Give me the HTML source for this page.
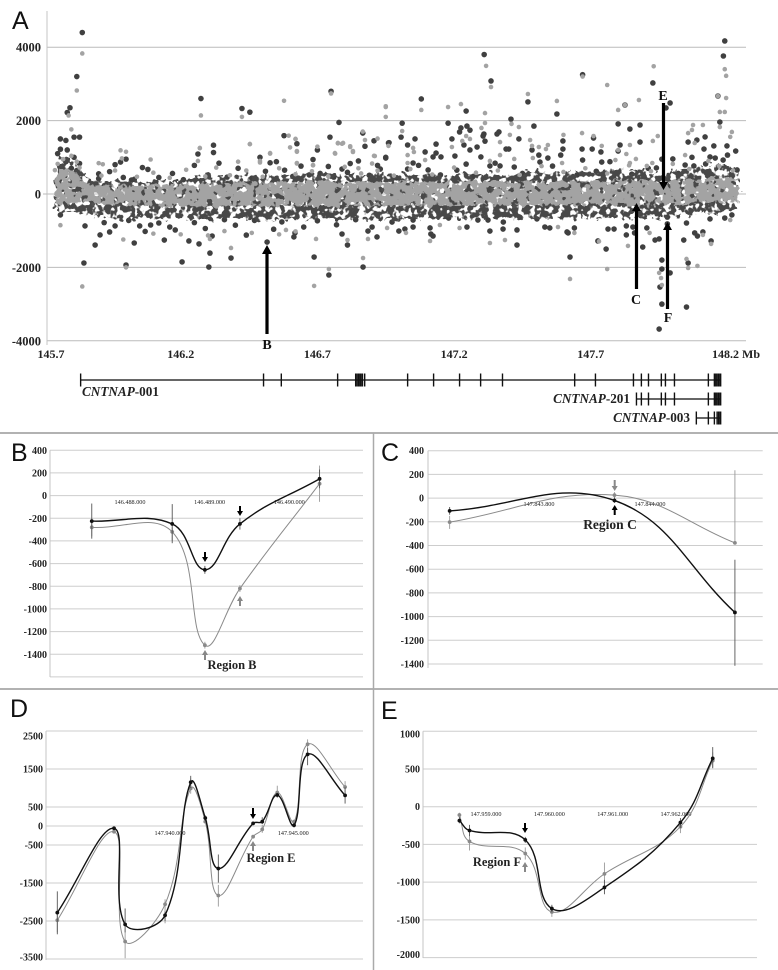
<!DOCTYPE html>
<html lang="en">
<head>
<meta charset="utf-8">
<title>CNTNAP copy-number panels</title>
<style>
html,body{margin:0;padding:0;background:#fff;}
#figure{display:block;width:778px;height:970px;font-family:"Liberation Serif",serif;}
.tick{font:bold 10px "Liberation Serif",serif;fill:#222;text-anchor:end;}
.tick-a{font:bold 12.5px "Liberation Serif",serif;fill:#222;}
.pos{font:6.2px "Liberation Serif",serif;fill:#222;text-anchor:middle;}
.panel{font:25px "Liberation Sans",sans-serif;fill:#111;}
.region{font:bold 12.5px "Liberation Serif",serif;fill:#222;text-anchor:middle;}
.gene{font:bold 13.2px "Liberation Serif",serif;fill:#222;}
.mark{font:bold 14px "Liberation Serif",serif;fill:#111;text-anchor:middle;}
</style>
</head>
<body>
<svg id="figure" xmlns="http://www.w3.org/2000/svg" width="778" height="970" viewBox="0 0 778 970">
<defs>
<filter id="speckle-fringe" x="40" y="130" width="710" height="120" filterUnits="userSpaceOnUse" color-interpolation-filters="sRGB">
<feTurbulence type="fractalNoise" baseFrequency="0.17" numOctaves="2" seed="4" result="n"/>
<feDisplacementMap in="SourceGraphic" in2="n" scale="12" xChannelSelector="R" yChannelSelector="G" result="d"/>
<feColorMatrix in="n" type="matrix" values="0 0 0 0 0  0 0 0 0 0  0 0 0 0 0  0 0 0 12 -5" result="m"/>
<feComposite in="d" in2="m" operator="in"/>
</filter>
<filter id="speckle-core" x="40" y="130" width="710" height="120" filterUnits="userSpaceOnUse" color-interpolation-filters="sRGB">
<feTurbulence type="fractalNoise" baseFrequency="0.15" numOctaves="2" seed="11" result="n"/>
<feDisplacementMap in="SourceGraphic" in2="n" scale="10" xChannelSelector="R" yChannelSelector="G" result="d"/>
<feColorMatrix in="n" type="matrix" values="0 0 0 0 0  0 0 0 0 0  0 0 0 0 0  0 0 0 16 -5.6" result="m"/>
<feComposite in="d" in2="m" operator="in"/>
</filter>
</defs>
<rect x="0" y="0" width="778" height="970" fill="#fff"/>
<g id="layer-a"></g>
<g id="layer-genes"></g>
<g id="layer-b"></g>
<g id="layer-c"></g>
<g id="layer-d"></g>
<g id="layer-e"></g>
<line x1="0" y1="433" x2="778" y2="433" stroke="#999" stroke-width="1.5"/>
<line x1="0" y1="689" x2="778" y2="689" stroke="#999" stroke-width="1.5"/>
<line x1="373.5" y1="433" x2="373.5" y2="970" stroke="#aaa" stroke-width="1.5"/>
<text class="panel" x="12" y="29">A</text>
<text class="panel" x="11" y="461">B</text>
<text class="panel" x="381" y="461">C</text>
<text class="panel" x="10" y="717">D</text>
<text class="panel" x="381" y="719">E</text>
<text class="mark" x="267" y="349">B</text>
<text class="mark" x="636" y="304">C</text>
<text class="mark" x="663" y="100">E</text>
<text class="mark" x="668" y="322">F</text>
<text class="gene" x="82" y="396"><tspan font-style="italic">CNTNAP</tspan>-001</text>
<text class="gene" x="630" y="403" text-anchor="end"><tspan font-style="italic">CNTNAP</tspan>-201</text>
<text class="gene" x="690" y="422" text-anchor="end"><tspan font-style="italic">CNTNAP</tspan>-003</text>
<text class="region" x="232" y="669">Region B</text>
<text class="region" x="610" y="529" style="font-size:13.5px">Region C</text>
<text class="region" x="271" y="862">Region E</text>
<text class="region" x="497" y="866">Region F</text>
</svg>
<script>
/* ---------- Panel A data ---------- */
const aYTicks = [4000, 2000, 0, -2000, -4000];
const aXTicks = [145.7, 146.2, 146.7, 147.2, 147.7, 148.2];
const aXTickLabels = ['145.7', '146.2', '146.7', '147.2', '147.7', '148.2 Mb'];
const bandPos = [145.74,145.76,145.79,145.82,145.85,145.88,145.93,145.98,146.03,146.08,
146.13,146.18,146.23,146.28,146.33,146.38,146.43,146.48,146.53,146.58,
146.63,146.68,146.73,146.78,146.83,146.88,146.93,146.98,147.03,147.08,
147.13,147.18,147.23,147.28,147.33,147.38,147.43,147.48,147.53,147.58,
147.63,147.68,147.73,147.78,147.83,147.88,147.93,147.98,148.03,148.08,
148.13,148.18,148.24];
const coreHigh = [500,640,700,560,310,260,240,230,250,220,
240,250,260,290,270,300,310,280,300,330,
320,340,350,310,330,320,340,310,360,330,
340,320,350,340,360,330,350,370,340,360,
370,350,340,390,370,390,360,350,410,390,
420,450,400];
const coreLow = [-250,-300,-260,-240,-240,-260,-280,-300,-320,-300,
-340,-330,-320,-350,-330,-340,-320,-350,-330,-320,
-340,-320,-330,-340,-310,-330,-320,-330,-300,-320,
-320,-300,-320,-310,-330,-300,-310,-290,-320,-300,
-310,-300,-320,-290,-300,-320,-290,-300,-280,-260,
-250,-240,-220];
const fringeHigh = [800,1050,1000,820,430,400,360,330,360,320,
350,360,430,520,480,500,520,460,500,550,
530,580,570,520,540,530,570,500,580,540,
560,520,570,550,580,530,560,620,570,600,
640,580,600,700,620,680,600,580,720,700,
780,820,600];
const fringeLow = [-450,-500,-520,-520,-560,-600,-640,-680,-660,-650,
-690,-680,-660,-710,-690,-710,-680,-730,-710,-680,
-710,-660,-690,-710,-660,-690,-680,-700,-650,-660,
-680,-650,-680,-660,-690,-650,-660,-630,-680,-650,
-660,-640,-680,-650,-660,-690,-630,-650,-600,-570,
-530,-500,-400];
const darkPoints = [[145.84,4400],[145.82,3200],[145.795,2350],[145.785,2220],[145.81,1550],[145.83,1550],[145.76,1500],[145.78,1460],[145.76,1220],[145.785,1200],[145.75,1100],[145.83,830],[145.76,730],[145.78,880],[145.80,700],[145.82,640],[145.81,1000],
[146.274,2600],[146.424,2330],[146.453,2230],[146.75,2800],[146.779,1950],[146.578,1590],[146.625,1370],[146.32,1330],[146.32,1130],[146.263,1090],[146.49,1000],[146.527,850],[146.684,940],[146.70,1200],[146.746,1550],[146.866,1660],[146.874,1300],[146.907,1450],[146.962,1400],[146.95,1000],[146.92,780],[146.79,680],[146.82,830],[146.74,750],[145.96,800],[145.98,870],[146.0,950],[145.99,450],[146.03,400],[146.08,670],[145.9,550],[146.58,650],[146.67,520],
[147.335,3080],[147.31,3800],[147.08,2590],[147.244,2260],[147.47,2510],[147.576,2180],[147.408,2040],[147.178,1930],[147.01,1930],[147.492,1850],[147.225,1800],[147.247,1850],[147.258,1740],[147.22,1690],[147.309,1635],[147.306,1580],[147.313,1440],[147.357,1635],[147.364,1690],[147.437,1500],[147.006,1550],[146.96,1390],[147.057,1500],[147.03,1335],[147.134,1360],[147.192,1500],[147.236,1335],[147.284,1280],[147.258,1200],[147.094,1145],[147.134,1115],[147.123,1010],[147.152,1010],[146.95,980],[147.203,1035],[147.39,1225],[147.40,1225],[147.298,1010],[147.244,815],[147.05,845],[147.331,765],[147.42,735],[147.368,765],[147.598,1445],[147.598,1225],[147.59,1060],[147.543,980],[147.51,1060],[147.514,870],[147.485,1200],[147.105,655],[147.03,680],
[147.67,3250],[147.927,3025],[147.825,2425],[147.99,2480],[148.165,2670],[148.19,4170],[148.185,3760],[148.172,1960],[147.80,1910],[147.843,1770],[147.88,1880],[147.88,1415],[147.975,2345],[147.668,1225],[147.71,1525],[147.705,1225],[147.737,1145],[147.67,925],[147.74,870],[147.807,1335],[147.80,1170],[147.94,710],[148.0,955],[148.045,790],[148.056,1415],[148.088,1470],[148.118,1555],[148.114,1225],[148.15,1310],[148.198,1310],[148.23,1170],[148.184,925],[148.155,980],[148.136,1010],[148.235,655],[148.077,765],
[146.516,-1310],[146.23,-1280],[146.267,-1360],[146.315,-1145],[146.307,-1610],[146.384,-1745],[146.205,-1850],[146.303,-1990],[146.44,-1120],[146.614,-1170],[146.618,-1060],[146.688,-1717],[146.742,-2207],[146.867,-1990],[146.81,-1390],[146.79,-1090],[146.885,-1010],[146.918,-1170],
[146.973,-765],[146.998,-1010],[147.02,-955],[147.05,-900],[147.05,-710],[147.112,-925],[147.115,-1090],[147.123,-1145],[147.18,-655],[147.247,-900],[147.287,-710],[147.324,-710],[147.331,-1010],[147.379,-955],[147.38,-765],[147.43,-980],[147.43,-1390],[147.44,-630],[147.503,-680],[147.532,-900],[147.55,-925],[147.617,-1060],[147.624,-1717],[147.64,-925],
[147.613,-1035],[147.726,-1280],[147.756,-1500],[147.785,-955],[147.763,-955],[147.83,-870],[147.83,-1115],[147.854,-900],[147.86,-1060],[147.89,-1445],[147.905,-925],[147.935,-1255],[147.95,-1225],[147.98,-630],[147.98,-815],[147.96,-1800],[147.96,-2045],[147.99,-2150],[147.953,-2535],[147.96,-3000],[147.95,-3680],[148.05,-3080],[148.056,-1880],[148.04,-1255],[148.05,-790],[148.08,-1060],[148.09,-1145],[148.11,-1035],[148.136,-680],[148.14,-1280],[148.19,-655],[148.216,-570],
[145.846,-1880],[145.76,-570],[145.905,-1115],[145.94,-1035],[146.0,-1935],[145.887,-1390],[146.03,-1335],[146.09,-845],[146.14,-1255],[145.85,-870],[145.96,-870],[146.05,-870],[146.18,-980],[145.92,-780],[146.01,-720],[146.07,-1020],[146.12,-790],[146.16,-900],[146.25,-780],[146.29,-940],[146.36,-700],[146.40,-850],[146.47,-720],[146.54,-960],[146.57,-760],[146.65,-900],[146.70,-730],[146.77,-840],[146.84,-700],[146.90,-900],
[145.9,420],[145.94,610],[146.02,380],[146.06,720],[146.12,450],[146.17,560],[146.21,390],[146.25,780],[146.30,520],[146.34,840],[146.37,460],[146.41,700],[146.46,430],[146.51,620],[146.55,880],[146.61,480],[146.64,760],[146.71,560],[146.76,460],[146.81,590],[146.85,900],[146.89,510],[146.93,680],[146.99,440],[147.07,780],[147.15,520],[147.21,650],[147.27,480],[147.35,840],[147.45,560],[147.56,760],[147.65,520],[147.72,620],[147.77,880],[147.85,540],[147.91,700],[147.96,950],[148.02,560],[148.07,1000],[148.12,820],[148.20,1060]];
const darkFlecks = [[145.78,480],[145.80,300],[145.82,-120],[145.76,120],[145.88,-280],[145.92,-120],[145.97,-300],[146.00,-60],[146.05,-240],[146.09,-340],[146.13,-100],[146.17,-280],[146.21,40],[146.26,-330],[146.30,-130],[146.35,-290],[146.39,60],[146.43,-200],[146.47,-360],[146.51,-70],[146.55,-310],[146.59,90],[146.62,-240],[146.66,-30],[146.70,-340],[146.74,110],[146.78,-180],[146.82,-350],[146.86,-40],[146.90,-270],[146.94,120],[146.98,-330],[147.02,-90],[147.06,-280],[147.10,80],[147.14,-230],[147.18,-360],[147.22,20],[147.26,-210],[147.30,-330],[147.34,100],[147.38,-150],[147.42,-340],[147.46,30],[147.50,-260],[147.54,-60],[147.58,-350],[147.62,120],[147.66,-220],[147.70,-340],[147.74,60],[147.78,-190],[147.82,-320],[147.86,-20],[147.90,-280],[147.94,90],[147.98,-230],[148.02,-330],[148.06,50],[148.10,-170],[148.14,-280],[148.18,130],[148.22,-120]];
const grayPoints = [[145.84,3830],[145.82,2820],[145.79,2140],[145.80,1760],[146.274,2140],[146.424,2100],[146.578,2540],[146.75,2740],[146.95,2390],[146.95,2100],[146.27,1250],[146.263,900],[146.453,1360],[146.41,880],[146.527,1100],[146.49,860],[146.595,1590],[146.62,1500],[146.60,1270],[146.625,1150],[146.625,830],[146.684,780],[146.70,1290],[146.765,1100],[146.775,1380],[146.79,1370],[146.82,1300],[146.83,1170],[146.866,1700],[146.874,1470],[146.92,1510],[146.907,1040],[146.90,830],[146.85,700],[145.98,1190],[146.0,1150],[145.985,970],[146.09,940],[145.9,840],[145.915,810],
[147.317,3490],[147.335,2915],[147.08,2290],[146.95,2370],[147.178,2370],[147.225,2450],[147.313,2205],[147.47,2725],[147.576,2535],[147.01,1715],[146.96,1310],[147.05,1255],[147.053,1145],[147.03,1060],[147.03,845],[147.094,925],[147.192,1280],[147.23,1445],[147.244,1580],[147.258,1500],[147.30,1800],[147.313,1935],[147.41,1910],[147.437,1825],[147.404,1610],[147.368,1415],[147.368,1060],[147.42,955],[147.331,900],[147.478,1470],[147.485,1310],[147.51,1280],[147.543,1335],[147.488,980],[147.536,1225],[147.60,1610],[147.595,845],[147.67,3200],
[147.331,-1335],[147.386,-1255],[147.112,-1280],[147.624,-2315],[146.955,-925],[147.024,-1060],[147.22,-925],[147.58,-900],[147.148,-845],
[146.27,1255],[146.453,1360],[146.527,1115],[146.625,845],[146.62,1500],[146.625,1170],[146.764,1115],[146.775,1390],[146.794,1390],[146.82,1280],[146.83,1145],[146.91,1035],[146.384,-1470],[146.307,-1225],[146.742,-2045],[146.688,-2505],[146.867,-1745],[146.81,-1255],[146.695,-1225],[146.885,-1225],[146.49,900],[146.684,790],[146.585,-980],
[147.76,2970],[147.825,2425],[147.876,2560],[147.80,2290],[147.93,3480],[148.165,2670],[148.195,2615],[148.172,2235],[148.19,2235],[148.19,3400],[148.195,3220],[147.668,1660],[147.71,1580],[147.74,1310],[147.80,1200],[147.843,1335],[147.83,1090],[147.79,925],[147.843,845],[147.865,955],[147.905,765],[147.927,1445],[147.925,845],[147.945,1580],[148.074,1880],[148.11,1880],[148.056,1660],[148.07,1745],[148.08,1390],[148.216,1690],[148.21,1555],[148.172,1825],[148.045,1060],[147.76,-2045],[147.73,-1290],[148.05,-1770],[148.056,-2015],[148.09,-1960],[147.95,-2150],[147.957,-2290],[147.96,-2480],[147.836,-1415],[147.64,-1060],[147.915,-1060],[148.11,-1115],[148.14,-1360],[148.21,-710],
[145.84,-2520],[145.76,-850],[146.0,-2000],[145.99,-1240],[146.1,-1080],[146.2,-1100],[146.3,-1130],[146.36,-1010],[146.46,-1060],[146.56,-1100],[146.62,-1020],
[145.75,820],[145.77,950],[145.80,1040],[145.82,880],[145.74,650],[145.83,720],[145.91,500],[145.96,640],[146.04,470],[146.1,580],[146.16,440],[146.22,660],[146.29,480],[146.33,720],[146.38,510],[146.44,640],[146.5,470],[146.56,700],[146.62,540],[146.68,620],[146.74,480],[146.8,740],[146.86,560],[146.92,640],[146.98,500],[147.04,680],[147.12,530],[147.2,720],[147.28,580],[147.36,640],[147.44,520],[147.52,760],[147.6,600],[147.68,700],[147.76,560],[147.84,780],[147.92,620],[148.0,820],[148.06,680],[148.13,900],[148.17,760],[148.22,640]];
/* ---------- Gene track data (exon positions, Mb) ---------- */
const exon001 = [145.834,146.503,146.568,146.774,146.84,146.845,146.85,146.855,146.86,146.865,146.873,147.03,147.125,147.22,147.297,147.377,147.641,147.717,147.856,147.885,147.911,147.958,147.973,148.006,148.13,148.152,148.157,148.162,148.167,148.172,148.175];
const exon201 = [147.867,147.885,147.911,147.958,147.973,148.006,148.13,148.152,148.157,148.162,148.167,148.172,148.175];
const exon003 = [148.086,148.13,148.152,148.162,148.167,148.172,148.175];
/* ---------- Panel B data ---------- */
const bPos = [487.52, 488.53, 488.94, 489.38, 490.38];
const bDark = [-225, -250, -655, -250, 148];
const bGray = [-280, -320, -1320, -820, 105];
const bDarkHigh = [-70, -75, -620, -200, 230];
const bDarkLow = [-380, -420, -690, -300, 65];
const bGrayHigh = [-200, -280, -1290, -790, 265];
const bGrayLow = [-360, -400, -1350, -850, -55];
const bYTicks = [400, 200, 0, -200, -400, -600, -800, -1000, -1200, -1400];
const bGridExtra = [-1600];
const bXTicks = [488, 489, 490];
const bXLabels = ['146.488.000', '146.489.000', '146.490.000'];
/* ---------- Panel C data ---------- */
const cPos = [843.639, 843.936, 844.153];
const cDark = [-108, -20, -965];
const cGray = [-203, 25, -378];
const cDarkHigh = [-75, 5, -520];
const cDarkLow = [-140, -40, -1415];
const cGrayHigh = [-150, 50, 235];
const cGrayLow = [-260, 0, -378];
const cYTicks = [400, 200, 0, -200, -400, -600, -800, -1000, -1200, -1400];
const cXTicks = [843.8, 844.0];
const cXLabels = ['147.843.800', '147.844.000'];
/* ---------- Panel D data ---------- */
const dPos = [935.43, 937.73, 938.18, 939.80, 940.84, 941.43, 941.96, 943.37, 943.74, 944.35, 945.03, 945.58, 947.10];
const dDark = [-2280, -60, -2590, -2350, 1150, 210, -1120, 70, 115, 815, 20, 1885, 805];
const dGray = [-2480, -150, -3040, -2060, 990, 115, -1830, -280, -90, 880, 115, 2150, 1025];
const dDarkHigh = [-1720, -30, -2170, -2250, 1320, 280, -750, 100, 230, 870, 60, 2050, 1020];
const dDarkLow = [-2850, -90, -2800, -2500, 1000, 140, -1490, 40, 50, 760, -40, 1600, 590];
const dGrayHigh = [-2200, -100, -2700, -1930, 1250, 160, -1550, -240, 30, 1060, 160, 2280, 1180];
const dGrayLow = [-2800, -190, -3480, -2560, 850, 70, -2120, -330, -180, 740, 40, 1950, 870];
const dYTicks = [2500, 1500, 500, 0, -500, -1500, -2500, -3500];
const dXTicks = [940, 945];
const dXLabels = ['147.940.000', '147.945.000'];
/* ---------- Panel E data ---------- */
const ePos = [958.58, 958.74, 959.62, 960.04, 960.87, 962.07, 962.58];
const eDark = [-185, -315, -440, -1350, -1070, -210, 640];
const eGray = [-110, -460, -620, -1395, -890, -265, 610];
const eDarkHigh = [-140, -240, -400, -1300, -970, -150, 790];
const eDarkLow = [-220, -390, -480, -1400, -1160, -280, 510];
const eGrayHigh = [-80, -340, -540, -1340, -740, -220, 720];
const eGrayLow = [-150, -580, -700, -1460, -1020, -350, 520];
const eYTicks = [1000, 500, 0, -500, -1000, -1500, -2000];
const eXTicks = [959, 960, 961, 962];
const eXLabels = ['147.959.000', '147.960.000', '147.961.000', '147.962.000'];

/* ---------- Helpers ---------- */
const NS = 'http://www.w3.org/2000/svg';
function make(tag, parent, props) {
  const el = document.createElementNS(NS, tag);
  for (const k in props) el.setAttribute(k, props[k]);
  parent.appendChild(el);
  return el;
}
function gridLine(parent, x1, x2, y, color) {
  const el = make('line', parent, {x1: x1, x2: x2, y1: y, y2: y, stroke: color, 'stroke-width': 1});
  
  
}
function axisLine(parent, x, y1, y2) {
  const el = make('line', parent, {x1: x, x2: x, y1: y1, y2: y2, stroke: '#c4c4c4', 'stroke-width': 1});
  
  
}
function tickText(parent, cls, x, y, str) {
  const el = make('text', parent, {class: cls, x: x, y: y});
  el.textContent = str;
  
  
  return el;
}
function arrow(parent, name, x, tail, tip, color, w, headW, headL) {
  const dir = tip > tail ? 1 : -1;
  const base = tip - dir * headL;
  const d = 'M' + (x - w / 2) + ' ' + tail + 'L' + (x + w / 2) + ' ' + tail + 'L' + (x + w / 2) + ' ' + base +
    'L' + (x + headW / 2) + ' ' + base + 'L' + x + ' ' + tip + 'L' + (x - headW / 2) + ' ' + base +
    'L' + (x - w / 2) + ' ' + base + 'Z';
  const el = make('path', parent, {d: d, fill: color});
  
  
}
const K = 0.4;
function smooth(p) {
  let d = 'M' + p[0][0].toFixed(2) + ' ' + p[0][1].toFixed(2);
  const len = (a, b) => Math.hypot(a[0] - b[0], a[1] - b[1]);
  for (let i = 0; i < p.length - 1; i++) {
    const p0 = p[i - 1] || p[i], p1 = p[i], p2 = p[i + 1], p3 = p[i + 2] || p2;
    const d1 = len(p0, p1), d2 = len(p1, p2), d3 = len(p2, p3);
    const a = d2 / ((d1 + d2) || 1) * K, b = d2 / ((d2 + d3) || 1) * K;
    const c1 = [p1[0] + (p2[0] - p0[0]) * a, p1[1] + (p2[1] - p0[1]) * a];
    const c2 = [p2[0] - (p3[0] - p1[0]) * b, p2[1] - (p3[1] - p1[1]) * b];
    d += 'C' + c1[0].toFixed(2) + ' ' + c1[1].toFixed(2) + ' ' + c2[0].toFixed(2) + ' ' + c2[1].toFixed(2) + ' ' + p2[0].toFixed(2) + ' ' + p2[1].toFixed(2);
  }
  return d;
}
function series(parent, name, pos, vals, hi, lo, x, y, color, lw, errColor) {
  for (let i = 0; i < pos.length; i++) {
    const bar = make('line', parent, {x1: x(pos[i]), x2: x(pos[i]), y1: y(hi[i]), y2: y(lo[i]), stroke: errColor, 'stroke-width': 0.9});
    
    
  }
  const pts = pos.map((v, i) => [x(v), y(vals[i])]);
  const line = make('path', parent, {d: smooth(pts), fill: 'none', stroke: color, 'stroke-width': lw});
  
  
  pts.forEach(pt => {
    const c = make('circle', parent, {cx: pt[0], cy: pt[1], r: 1.9, fill: color});
    
    
  });
}
function panel(layer, cfg) {
  cfg.yTicks.concat(cfg.gridExtra || []).forEach(v => gridLine(layer, cfg.gx1, cfg.gx2, cfg.y(v), '#cdcdcd'));
  axisLine(layer, cfg.gx1, cfg.y(cfg.yTicks[0]), cfg.axisEnd);
  cfg.yTicks.forEach((v, i) => {
    let shift = 3.5;
    if (cfg.firstShift && i === 0) shift += cfg.firstShift;
    if (cfg.lastShift && i === cfg.yTicks.length - 1) shift += cfg.lastShift;
    tickText(layer, 'tick', cfg.labelX, cfg.y(v) + shift, String(v));
  });
  cfg.xTicks.forEach((v, i) => tickText(layer, 'pos', cfg.x(v), cfg.posY, cfg.xLabels[i]));
  series(layer, 'series-gray', cfg.pos, cfg.gray, cfg.grayHigh, cfg.grayLow, cfg.x, cfg.y, '#8a8a8a', 1, '#999');
  series(layer, 'series-black', cfg.pos, cfg.dark, cfg.darkHigh, cfg.darkLow, cfg.x, cfg.y, '#111', 1.4, '#555');
}

/* ---------- Panel A ---------- */
const layerA = document.getElementById('layer-a');
const ax = v => 44 + (v - 145.7) * 273.4;
const ay = v => 194 - v * 0.0367;
aYTicks.forEach(v => {
  gridLine(layerA, 47, 746, ay(v), '#bbb');
  const t = tickText(layerA, 'tick-a', 41, ay(v) + 4.5, String(v));
  t.setAttribute('text-anchor', 'end');
});
axisLine(layerA, 47, 11, 345);
const zeroTick = make('line', layerA, {x1: 43, x2: 47, y1: ay(0), y2: ay(0), stroke: '#bbb', 'stroke-width': 1});


aXTicks.forEach((v, i) => {
  const lx = i === 0 ? 51 : (i === 5 ? 736 : ax(v));
  const t = tickText(layerA, 'tick-a', lx, 358, aXTickLabels[i]);
  t.setAttribute('text-anchor', 'middle');
  t.setAttribute('style', 'font-size:12px');
});
function bandPath(high, low) {
  let d = '';
  bandPos.forEach((m, i) => { d += (i ? 'L' : 'M') + ax(m).toFixed(1) + ' ' + ay(high[i]).toFixed(1); });
  for (let i = bandPos.length - 1; i >= 0; i--) d += 'L' + ax(bandPos[i]).toFixed(1) + ' ' + ay(low[i]).toFixed(1);
  return d + 'Z';
}
darkPoints.forEach(p => {
  const c = make('circle', layerA, {cx: ax(p[0]), cy: ay(p[1]), r: 2.8, fill: '#404040'});
  
  
});
const fringeArea = make('path', layerA, {d: bandPath(fringeHigh, fringeLow), fill: '#484848', filter: 'url(#speckle-fringe)'});


darkFlecks.forEach(p => {
  const c = make('circle', layerA, {cx: ax(p[0]), cy: ay(p[1]), r: 1.8, fill: '#505050'});
  
  
});
const coreArea = make('path', layerA, {d: bandPath(coreHigh, coreLow), fill: '#a3a3a3', filter: 'url(#speckle-core)'});


grayPoints.forEach(p => {
  const c = make('circle', layerA, {cx: ax(p[0]), cy: ay(p[1]), r: 2.3, fill: '#a3a3a3'});
  
  
});
arrow(layerA, 'arrow-b', 267, 334, 245, '#000', 3.2, 10, 9);
arrow(layerA, 'arrow-c', 636.5, 289, 203, '#000', 3.2, 9, 8);
arrow(layerA, 'arrow-e', 663.5, 103, 190, '#000', 3.2, 9, 8);
arrow(layerA, 'arrow-f', 667.5, 309, 222, '#000', 3.2, 9, 8);

/* ---------- Gene tracks ---------- */
const layerG = document.getElementById('layer-genes');
function track(name, y, ticks) {
  const base = make('line', layerG, {x1: ax(ticks[0]), x2: ax(ticks[ticks.length - 1]), y1: y, y2: y, stroke: '#333', 'stroke-width': 1.6});
  
  
  ticks.forEach(m => {
    const t = make('line', layerG, {x1: ax(m), x2: ax(m), y1: y - 6.5, y2: y + 6.5, stroke: '#111', 'stroke-width': 1.4});
    
    
  });
}
track('cntnap-001', 380, exon001);
track('cntnap-201', 399, exon201);
track('cntnap-003', 418, exon003);

/* ---------- Panel B ---------- */
const layerB = document.getElementById('layer-b');
const bx = v => 130 + (v - 488) * 79.65;
const by = v => 495.6 - v * 0.11333;
panel(layerB, {x: bx, y: by, gx1: 50, gx2: 363, labelX: 47, posY: 504, axisEnd: 677, yTicks: bYTicks, gridExtra: bGridExtra,
  xTicks: bXTicks, xLabels: bXLabels, pos: bPos, dark: bDark, gray: bGray, darkHigh: bDarkHigh, darkLow: bDarkLow, grayHigh: bGrayHigh, grayLow: bGrayLow});
arrow(layerB, 'region-b-arrow-black-1', 205, 552, 562, '#000', 2, 6, 5);
arrow(layerB, 'region-b-arrow-black-2', 240, 506, 516, '#000', 2, 6, 5);
arrow(layerB, 'region-b-arrow-gray-1', 240, 606, 596, '#888', 2, 6, 5);
arrow(layerB, 'region-b-arrow-gray-2', 205, 660, 650, '#888', 2, 6, 5);

/* ---------- Panel C ---------- */
const layerC = document.getElementById('layer-c');
const cx = v => 539 + (v - 843.8) / 0.2 * 111;
const cy = v => 498.1 - v * 0.1185;
panel(layerC, {x: cx, y: cy, gx1: 428, gx2: 762.7, labelX: 424, posY: 506, axisEnd: 668, yTicks: cYTicks,
  xTicks: cXTicks, xLabels: cXLabels, pos: cPos, dark: cDark, gray: cGray, darkHigh: cDarkHigh, darkLow: cDarkLow, grayHigh: cGrayHigh, grayLow: cGrayLow});
arrow(layerC, 'region-c-arrow-gray', 614.7, 480, 491, '#888', 2, 6, 5);
arrow(layerC, 'region-c-arrow-black', 614.7, 515, 505, '#000', 2, 6, 5);

/* ---------- Panel D ---------- */
const layerD = document.getElementById('layer-d');
const dx = v => 170 + (v - 940) * 24.66;
const dy = v => 826 - v * 0.038;
panel(layerD, {x: dx, y: dy, gx1: 46, gx2: 363, labelX: 43, posY: 835, axisEnd: 960, firstShift: 5, lastShift: -2, yTicks: dYTicks,
  xTicks: dXTicks, xLabels: dXLabels, pos: dPos, dark: dDark, gray: dGray, darkHigh: dDarkHigh, darkLow: dDarkLow, grayHigh: dGrayHigh, grayLow: dGrayLow});
arrow(layerD, 'region-e-arrow-black', 253, 808, 819, '#000', 2, 6, 5);
arrow(layerD, 'region-e-arrow-gray', 253, 851, 841, '#888', 2, 6, 5);

/* ---------- Panel E ---------- */
const layerE = document.getElementById('layer-e');
const ex = v => 486 + (v - 959) * 63.33;
const ey = v => 806.7 - v * 0.07547;
panel(layerE, {x: ex, y: ey, gx1: 423, gx2: 757, labelX: 420, posY: 816, axisEnd: 958, firstShift: 3, lastShift: -3, yTicks: eYTicks,
  xTicks: eXTicks, xLabels: eXLabels, pos: ePos, dark: eDark, gray: eGray, darkHigh: eDarkHigh, darkLow: eDarkLow, grayHigh: eGrayHigh, grayLow: eGrayLow});
arrow(layerE, 'region-f-arrow-black', 525, 823, 833, '#000', 2, 6, 5);
arrow(layerE, 'region-f-arrow-gray', 525, 872, 862, '#888', 2, 6, 5);
</script>
</body>
</html>
